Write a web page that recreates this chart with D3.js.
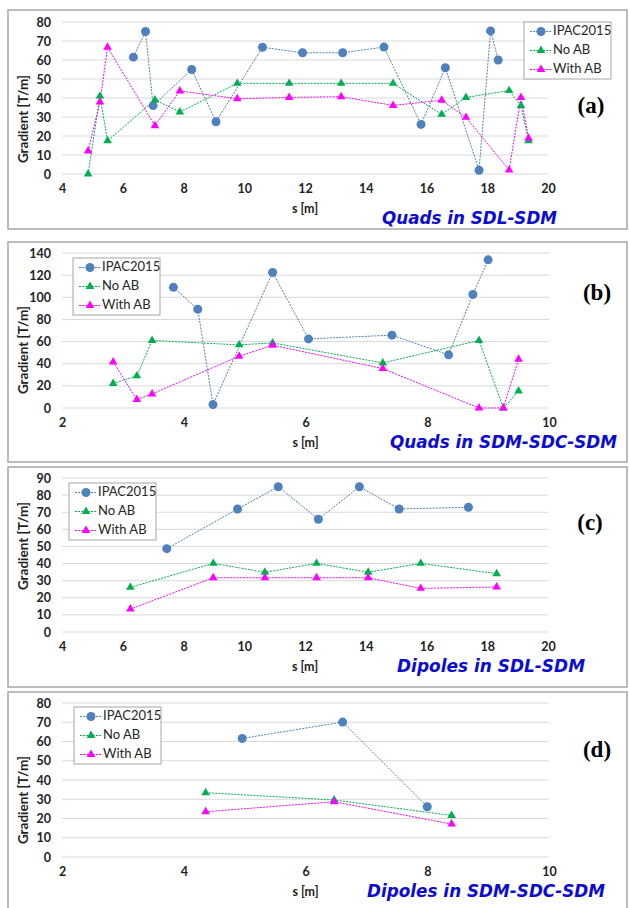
<!DOCTYPE html>
<html>
<head>
<meta charset="utf-8">
<script src="https://cdn.jsdelivr.net/npm/d3@7"></script>
<style>
  body { margin: 0; background: #fff; }
</style>
</head>
<body>
<script>
// series names, shared by all four panels
var seriesNames = ["IPAC2015", "No AB", "With AB"];
var seriesColors = ["#4f81bd", "#00b050", "#ff00ff"];

// (a) Quads in SDL-SDM : [s, gradient]
var quadsSdlIpac = [[6.35, 61.5], [6.75, 75], [7.0, 36], [8.27, 55], [9.07, 27.5], [10.6, 66.7],
  [11.92, 63.8], [13.24, 63.8], [14.6, 66.8], [15.82, 26.1], [16.62, 55.9], [17.73, 2],
  [18.11, 75.3], [18.36, 60]];
var quadsSdlNoAB = [[4.86, 0], [5.25, 41], [5.5, 17.5], [7.06, 39], [7.88, 32.6], [9.77, 47.7],
  [11.48, 47.7], [13.19, 47.7], [14.9, 47.7], [16.5, 31.4], [17.3, 40.3], [18.72, 43.9],
  [19.11, 36], [19.36, 17.5]];
var quadsSdlWithAB = [[4.86, 12.1], [5.25, 37.9], [5.5, 66.7], [7.06, 25.4], [7.88, 43.7], [9.77, 39.6],
  [11.48, 40.3], [13.19, 40.7], [14.9, 36.1], [16.5, 38.8], [17.3, 29.8], [18.72, 2.1],
  [19.11, 40.3], [19.36, 18.8]];

// (b) Quads in SDM-SDC-SDM
var quadsSdcIpac = [[3.83, 109], [4.23, 89.3], [4.48, 3.1], [5.46, 122.5], [6.05, 62.4],
  [7.42, 65.8], [8.35, 48], [8.75, 102.6], [9.0, 133.8]];
var quadsSdcNoAB = [[2.84, 22.1], [3.23, 29], [3.48, 61], [4.91, 57], [5.46, 58.8], [7.27, 40.7],
  [8.85, 61], [9.25, 0], [9.5, 15.4]];
var quadsSdcWithAB = [[2.84, 41.6], [3.23, 7.6], [3.48, 12.7], [4.91, 46.8], [5.46, 56.7], [7.27, 35.6],
  [8.85, 0], [9.25, 0], [9.5, 44]];

// (c) Dipoles in SDL-SDM
var dipSdlIpac = [[7.45, 48.7], [9.78, 71.9], [11.12, 84.9], [12.44, 65.9], [13.79, 84.9],
  [15.1, 71.9], [17.38, 72.9]];
var dipSdlNoAB = [[6.25, 26.1], [8.98, 40.1], [10.68, 34.9], [12.38, 40.1], [14.08, 34.9],
  [15.81, 40.1], [18.31, 34.1]];
var dipSdlWithAB = [[6.25, 13.4], [8.98, 31.7], [10.68, 31.7], [12.38, 31.7], [14.08, 31.7],
  [15.81, 25.5], [18.31, 26.3]];

// (d) Dipoles in SDM-SDC-SDM
var dipSdcIpac = [[4.96, 61.6], [6.61, 70.1], [8.0, 26.1]];
var dipSdcNoAB = [[4.36, 33.4], [6.47, 29.6], [8.4, 21.6]];
var dipSdcWithAB = [[4.36, 23.5], [6.47, 28.7], [8.4, 17.1]];

var svg = d3.select("body").append("svg")
  .attr("width", 629)
  .attr("height", 908);

var panels = [
  {
    frame: [8, 10, 619, 219], plot: [62, 22, 548, 174],
    xDomain: [4, 20], xTicks: d3.range(4, 21, 2), yDomain: [0, 80], yTicks: d3.range(0, 81, 10),
    data: [quadsSdlIpac, quadsSdlNoAB, quadsSdlWithAB],
    legend: [524, 22], label: "(a)", labelPos: [591, 108],
    title: "Quads in SDL-SDM", titleX: 382, titleW: 175, titleY: 219, yTitleY: 119
  },
  {
    frame: [8, 242, 619, 220], plot: [62, 253, 549, 408],
    xDomain: [2, 10], xTicks: d3.range(2, 11, 2), yDomain: [0, 140], yTicks: d3.range(0, 141, 20),
    data: [quadsSdcIpac, quadsSdcNoAB, quadsSdcWithAB],
    legend: [73, 258], label: "(b)", labelPos: [597, 295],
    title: "Quads in SDM-SDC-SDM", titleX: 390, titleW: 227, titleY: 443, yTitleY: 350
  },
  {
    frame: [8, 467, 619, 220], plot: [62, 478, 548, 632],
    xDomain: [4, 20], xTicks: d3.range(4, 21, 2), yDomain: [0, 90], yTicks: d3.range(0, 91, 10),
    data: [dipSdlIpac, dipSdlNoAB, dipSdlWithAB],
    legend: [69, 483], label: "(c)", labelPos: [590, 525],
    title: "Dipoles in SDL-SDM", titleX: 397, titleW: 188, titleY: 667, yTitleY: 546
  },
  {
    frame: [8, 692, 619, 230], plot: [62, 703, 549, 857],
    xDomain: [2, 10], xTicks: d3.range(2, 11, 2), yDomain: [0, 80], yTicks: d3.range(0, 81, 10),
    data: [dipSdcIpac, dipSdcNoAB, dipSdcWithAB],
    legend: [74, 707], label: "(d)", labelPos: [597, 752],
    title: "Dipoles in SDM-SDC-SDM", titleX: 367, titleW: 238, titleY: 892, yTitleY: 800
  }
];

function drawMarker(g, i, x, y) {
  if (i == 0) {
    g.append("circle")
      .attr("cx", x).attr("cy", y).attr("r", 4.5)
      .attr("fill", seriesColors[0]);
  } else {
    g.append("path")
      .attr("d", d3.symbol().type(d3.symbolTriangle).size(32)())
      .attr("transform", "translate(" + x + "," + y + ")")
      .attr("fill", seriesColors[i]);
  }
}

panels.forEach(function (p) {
  var g = svg.append("g");
  var f = p.frame;
  g.append("rect")
    .attr("x", f[0]).attr("y", f[1]).attr("width", f[2]).attr("height", f[3])
    .attr("fill", "#fff").attr("stroke", "#a6a6a6").attr("stroke-width", 1.5);

  var x = d3.scaleLinear().domain(p.xDomain).range([p.plot[0], p.plot[2]]);
  var y = d3.scaleLinear().domain(p.yDomain).range([p.plot[3], p.plot[1]]);

  // horizontal gridlines
  g.selectAll(".grid")
    .data(p.yTicks)
    .enter()
    .append("line")
    .attr("x1", p.plot[0]).attr("x2", p.plot[2])
    .attr("y1", function (d) { return y(d); })
    .attr("y2", function (d) { return y(d); })
    .attr("stroke", "#d9d9d9").attr("stroke-width", 1);

  // tick labels
  var yAxis = g.append("g")
    .attr("transform", "translate(" + (p.plot[0] - 11) + ",0)")
    .call(d3.axisLeft(y).tickValues(p.yTicks).tickSize(0).tickPadding(0));
  yAxis.select(".domain").remove();
  yAxis.selectAll("text")
    .attr("font-family", "Lato, sans-serif").attr("font-size", 12.5).attr("font-weight", "bold")
    .attr("fill", "#222");

  var xAxis = g.append("g")
    .attr("transform", "translate(0," + (p.plot[3] + 10) + ")")
    .call(d3.axisBottom(x).tickValues(p.xTicks).tickSize(0).tickPadding(0));
  xAxis.select(".domain").remove();
  xAxis.selectAll("text")
    .attr("font-family", "Lato, sans-serif").attr("font-size", 12.5).attr("font-weight", "bold")
    .attr("fill", "#222");

  // axis titles
  g.append("text")
    .attr("transform", "translate(25," + p.yTitleY + ") rotate(-90)")
    .attr("text-anchor", "middle").attr("dominant-baseline", "middle")
    .attr("font-family", "Lato, sans-serif")
    .attr("font-size", 13.5).attr("font-weight", "bold").attr("fill", "#222")
    .text("Gradient [T/m]");
  g.append("text")
    .attr("x", (p.plot[0] + p.plot[2]) / 2).attr("y", p.plot[3] + 36)
    .attr("text-anchor", "middle").attr("dominant-baseline", "middle")
    .attr("font-family", "Lato, sans-serif")
    .attr("font-size", 12.5).attr("font-weight", "bold").attr("fill", "#222")
    .text("s [m]");

  // series
  var line = d3.line()
    .x(function (d) { return x(d[0]); })
    .y(function (d) { return y(d[1]); });
  p.data.forEach(function (ser, i) {
    g.append("path")
      .attr("d", line(ser))
      .attr("fill", "none")
      .attr("stroke", seriesColors[i])
      .attr("stroke-width", 1)
      .attr("stroke-dasharray", "2,1.2");
  });
  p.data.forEach(function (ser, i) {
    ser.forEach(function (d) {
      drawMarker(g, i, x(d[0]), y(d[1]));
    });
  });

  // legend
  var lx = p.legend[0], ly = p.legend[1];
  g.append("rect")
    .attr("x", lx).attr("y", ly).attr("width", 87).attr("height", 57)
    .attr("fill", "#fff").attr("stroke", "#a6a6a6").attr("stroke-width", 1);
  seriesNames.forEach(function (name, i) {
    var yy = ly + 9.5 + i * 19;
    g.append("line")
      .attr("x1", lx + 6).attr("x2", lx + 28).attr("y1", yy).attr("y2", yy)
      .attr("stroke", seriesColors[i]).attr("stroke-width", 1).attr("stroke-dasharray", "2,1.2");
    drawMarker(g, i, lx + 17, yy);
    g.append("text")
      .attr("x", lx + 29).attr("y", yy)
      .attr("dominant-baseline", "middle")
      .attr("font-family", "Lato, sans-serif")
      .attr("font-size", 13).attr("fill", "#262626")
      .text(name);
  });

  // panel tag
  g.append("text")
    .attr("x", p.labelPos[0]).attr("y", p.labelPos[1])
    .attr("text-anchor", "middle").attr("dominant-baseline", "middle")
    .attr("font-family", "'Liberation Serif', 'DejaVu Serif', serif")
    .attr("font-size", 23).attr("font-weight", "bold").attr("fill", "#000")
    .text(p.label);

  // blue caption
  g.append("text")
    .attr("x", p.titleX).attr("y", p.titleY)
    .attr("dominant-baseline", "middle")
    .attr("font-family", "'DejaVu Sans', Verdana, sans-serif")
    .attr("font-size", 17).attr("font-weight", "bold").attr("font-style", "italic")
    .attr("fill", "#0c0cd4")
    .attr("textLength", p.titleW).attr("lengthAdjust", "spacingAndGlyphs")
    .text(p.title);
});
</script>
</body>
</html>
